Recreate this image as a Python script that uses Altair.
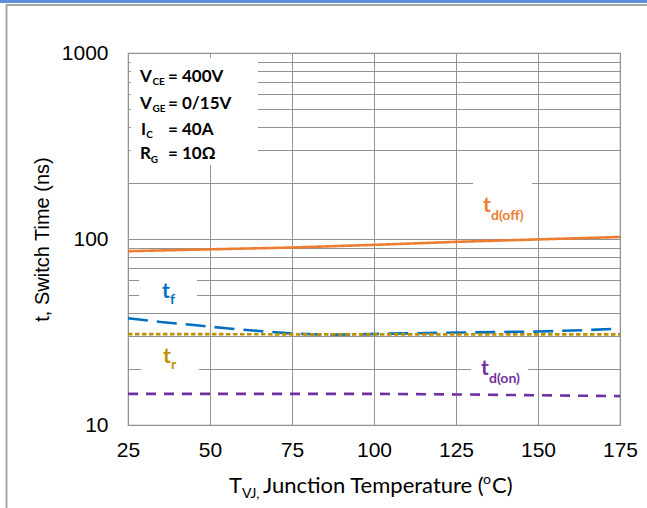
import altair as alt
import pandas as pd

# ---------------- data ----------------
temps_off = [25, 50, 75, 100, 125, 150, 175]
td_off = [86, 88, 90, 93, 96.5, 99.5, 102.5]

temps_f = [25, 35, 45, 55, 65, 75, 85, 95, 105, 125, 150, 165, 175]
t_f = [37.5, 35.8, 34.5, 33.1, 32.0, 31.0, 30.6, 30.7, 31.0, 31.4, 31.8, 32.4, 33.0]

temps_r = [25, 50, 75, 100, 125, 150, 175]
t_r = [30.8, 30.8, 30.7, 30.7, 30.7, 30.7, 30.7]

temps_on = [25, 50, 75, 100, 125, 150, 175]
td_on = [14.7, 14.7, 14.7, 14.7, 14.6, 14.45, 14.3]

series_names = ["td(off)", "tf", "tr", "td(on)"]
series_colors = ["#ED7D31", "#0070C0", "#BF9000", "#7030A0"]
series_dash = [[1, 0], [20, 9], [4.5, 2.5], [10, 8]]

x_ticks = [25, 50, 75, 100, 125, 150, 175]
y_grid = [10, 20, 30, 40, 50, 60, 70, 80, 90, 100, 200, 300, 400, 500, 600, 700, 800, 900, 1000]

# annotation block (text, T, value, size)
note_text = ["V", "CE", "= 400V", "V", "GE", "= 0/15V", "I", "C", "= 40A", "R", "G", "= 10Ω"]
note_T = [28.66, 32.47, 37.2, 28.66, 32.47, 37.2, 28.96, 30.54, 37.2, 28.66, 31.9, 37.2]
note_v = [701, 673, 701, 500, 480, 500, 362.4, 347.9, 362.4, 268.3, 257.5, 268.3]
note_size = [17, 10, 17, 17, 10, 17, 17, 10, 17, 17, 10, 17]

# series labels
lab_text = ["t", "d(off)", "t", "f", "t", "r", "t", "d(on)"]
lab_T = [133.23, 135.67, 35.37, 37.8, 35.67, 38.11, 132.62, 135.06]
lab_v = [140.3, 127.3, 48.2, 44.7, 21.54, 19.88, 18.58, 16.92]
lab_size = [21, 14, 21, 14, 21, 14, 21, 14]
lab_color = ["#ED7D31", "#ED7D31", "#0070C0", "#0070C0", "#BF9000", "#BF9000", "#7030A0", "#7030A0"]

# white label boxes
box_T = [25.9, 130.2, 28.4, 29.0, 129.6]
box_T2 = [64.6, 148.2, 46.0, 46.6, 147.0]
box_v = [250, 111.7, 43.6, 17.5, 16.4]
box_v2 = [940, 220.8, 65.6, 26.9, 23.8]

# ---------------- tables ----------------
rows = []
for name, xs, ys in zip(series_names, [temps_off, temps_f, temps_r, temps_on], [td_off, t_f, t_r, td_on]):
    for a, b in zip(xs, ys):
        rows.append({"T": a, "v": b, "series": name})
lines_df = pd.DataFrame(rows)

notes_df = pd.DataFrame({"T": note_T, "v": note_v, "text": note_text, "size": note_size})
labels_df = pd.DataFrame({"T": lab_T, "v": lab_v, "text": lab_text, "size": lab_size, "color": lab_color})
boxes_df = pd.DataFrame({"T": box_T, "T2": box_T2, "v": box_v, "v2": box_v2})

GRID = "#939393"
x_scale = alt.Scale(domain=[25, 175], nice=False, zero=False)
y_scale = alt.Scale(type="log", domain=[10, 1000], nice=False)
x_axis = alt.Axis(values=x_ticks, grid=True, gridColor=GRID, gridWidth=1, ticks=False, domain=False,
                  labelFont="Liberation Sans", labelFontSize=21, labelColor="black", labelPadding=14,
                  labelFlush=False, title=None)
y_axis = alt.Axis(values=y_grid, grid=True, gridColor=GRID, gridWidth=1, ticks=False, domain=False,
                  labelFont="Liberation Sans", labelFontSize=21, labelColor="black", labelPadding=20,
                  labelOverlap=False,
                  labelExpr="(datum.value == 10 || datum.value == 100 || datum.value == 1000) ? format(datum.value, 'd') : ''",
                  title="t,  Switch Time (ns)", titleFont="Liberation Sans", titleFontSize=20,
                  titleFontWeight="normal", titleColor="black", titlePadding=9)

X = alt.X("T:Q", scale=x_scale, axis=x_axis)
Y = alt.Y("v:Q", scale=y_scale, axis=y_axis)

boxes = alt.Chart(boxes_df).mark_rect(fill="white").encode(
    x=X, x2="T2:Q", y=Y, y2="v2:Q"
)

lines = alt.Chart(lines_df).mark_line(strokeWidth=2.6, strokeCap="butt").encode(
    x=X, y=Y,
    color=alt.Color("series:N", scale=alt.Scale(domain=series_names, range=series_colors), legend=None),
    strokeDash=alt.StrokeDash("series:N", scale=alt.Scale(domain=series_names, range=series_dash), legend=None),
    detail="series:N",
)

notes = alt.Chart(notes_df).mark_text(align="left", baseline="alphabetic", font="Lato",
                                      fontWeight="bold", color="black").encode(
    x=X, y=Y, text="text:N", size=alt.Size("size:Q", scale=None)
)

labels = alt.Chart(labels_df).mark_text(align="left", baseline="alphabetic", font="Lato",
                                        fontWeight="bold").encode(
    x=X, y=Y, text="text:N", size=alt.Size("size:Q", scale=None),
    color=alt.Color("color:N", scale=None)
)

# x-axis title pieces (with subscript / superscript)
xt_text = ["T", "VJ,", "Junction Temperature (", "o", "C)"]
xt_x = [101, 114, 135, 355, 364]
xt_y = [440, 445, 440, 431, 440]
xt_size = [22, 14, 22, 14, 22]
xt_df = pd.DataFrame({"text": xt_text, "px": xt_x, "py": xt_y, "size": xt_size})
xtitle = alt.Chart(xt_df).mark_text(align="left", baseline="alphabetic", font="Lato", color="black").encode(
    x=alt.X("px:Q", scale=None), y=alt.Y("py:Q", scale=None), text="text:N",
    size=alt.Size("size:Q", scale=None)
)

# outer frame decoration
frame_blue = alt.Chart(pd.DataFrame({"a": [0]})).mark_rule(color="#5B8ED6", strokeWidth=3).encode(
    x=alt.value(-128), x2=alt.value(519), y=alt.value(-51.5))
frame_top = alt.Chart(pd.DataFrame({"a": [0]})).mark_rule(color="#A6A6A6", strokeWidth=2).encode(
    x=alt.value(-122), x2=alt.value(519), y=alt.value(-48))
frame_left = alt.Chart(pd.DataFrame({"a": [0]})).mark_rule(color="#A6A6A6", strokeWidth=2).encode(
    x=alt.value(-121.5), y=alt.value(-48), y2=alt.value(455))

chart = alt.layer(boxes, lines, notes, labels, xtitle, frame_blue, frame_top, frame_left).properties(
    width=492, height=372,
    padding={"left": 128, "top": 53, "right": 27, "bottom": 83},
    autosize=alt.AutoSizeParams(type="none"),
    background="white",
).configure_view(stroke="#939393", strokeWidth=1.2)

chart.save("out.html", embed_options={"renderer": "svg", "actions": False})
